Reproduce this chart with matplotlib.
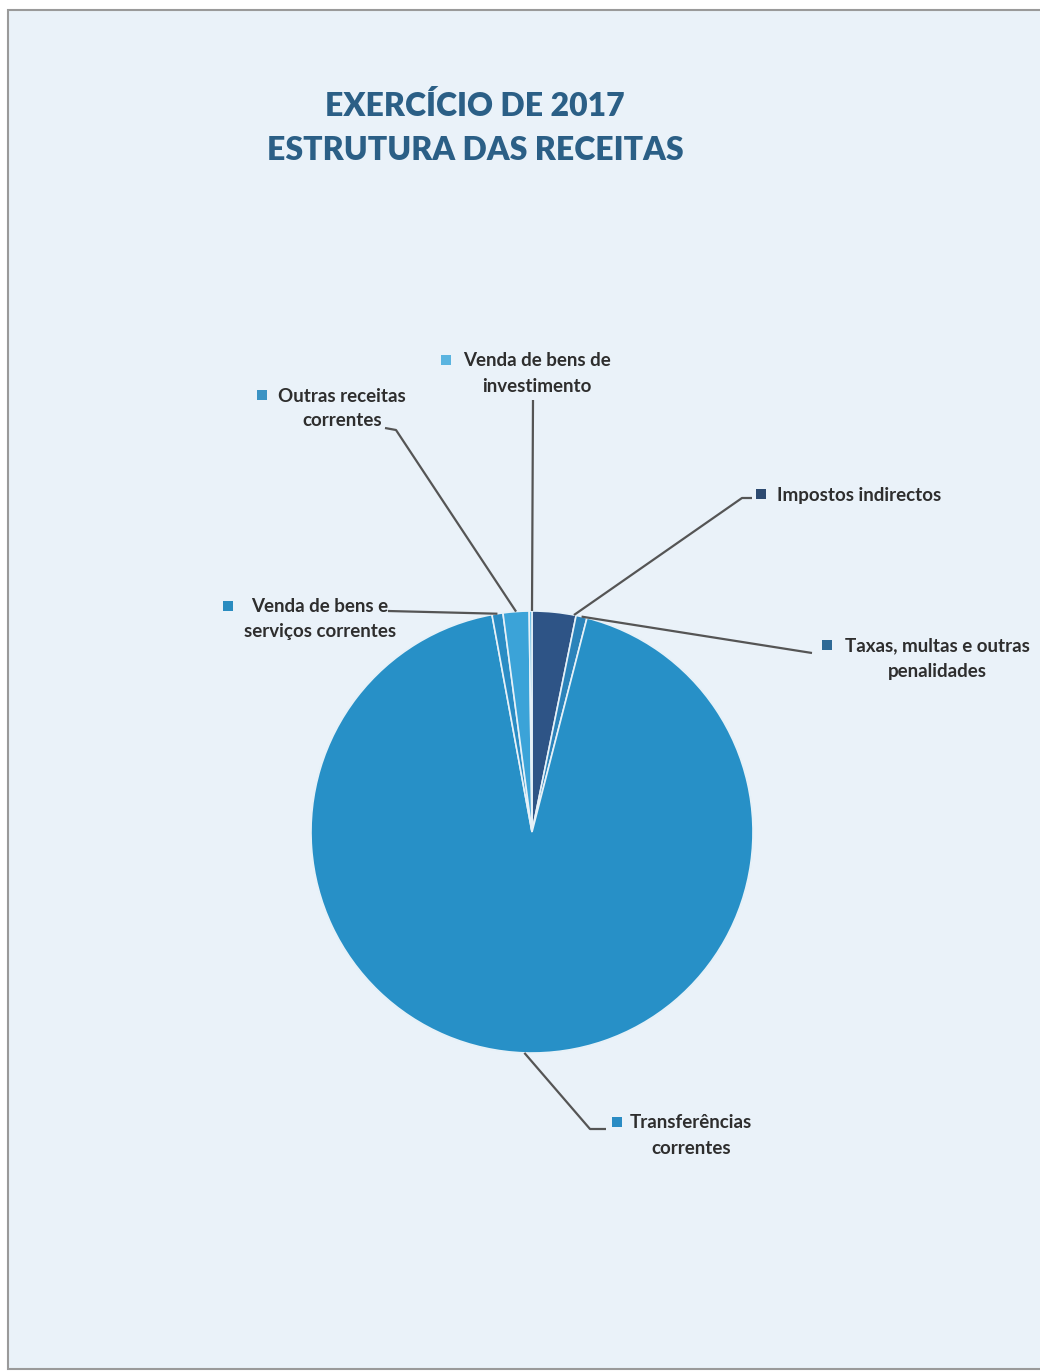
import numpy as np
import matplotlib
matplotlib.use("Agg")
import matplotlib.pyplot as plt
from matplotlib.patches import Rectangle

# ---- data ----
categories = [
    "Impostos indirectos",
    "Taxas, multas e outras\npenalidades",
    "Transferências\ncorrentes",
    "Venda de bens e\nserviços correntes",
    "Outras receitas\ncorrentes",
    "Venda de bens de\ninvestimento",
]
shares = [3.2, 0.8, 93.1, 0.8, 1.9, 0.2]
slice_colors = ["#2e5486", "#2b83ba", "#2790c7", "#2a8cc4", "#3ba3d8", "#5bb6e2"]
legend_colors = ["#2d4a70", "#2f6a96", "#2a8cc4", "#2a8cc0", "#3b93c4", "#5ab4e0"]
title = "EXERCÍCIO DE 2017\nESTRUTURA DAS RECEITAS"

W, H = 1040, 1371
fig = plt.figure(figsize=(W / 100, H / 100), dpi=100)
fig.patch.set_facecolor("white")
ax = fig.add_axes([0, 0, 1, 1])

def Y(py):
    return H - py

# pie
cx, cy, r = 532, 832, 221
wedges, _ = ax.pie(shares, colors=slice_colors, startangle=90, counterclock=False,
                   center=(cx, Y(cy)), radius=r, frame=True,
                   wedgeprops=dict(edgecolor="#e6f1f8", linewidth=1.2))
ax.set_xlim(0, W)
ax.set_ylim(0, H)
ax.set_aspect("equal")
ax.axis("off")

# frame / background
ax.add_patch(Rectangle((8, Y(1369)), 1040, 1369 - 10, facecolor="#eaf2f9",
                       edgecolor="#9a9a9a", linewidth=1.5, zorder=0))

# label layout: (text center x, first line y, square x, leader elbow points, anchor fraction)
layout = [
    dict(tx=859, ty=495, sq=761, elbow=[(752, 498), (742, 498)], frac=0.95),
    dict(tx=937, ty=646, sq=827, elbow=[(812, 653)], frac=0.5),
    dict(tx=691, ty=1123, sq=617, elbow=[(606, 1129), (590, 1129)], frac=0.5),
    dict(tx=320, ty=607, sq=228, elbow=[(388, 611)], frac=0.5),
    dict(tx=342, ty=396, sq=262, elbow=[(385, 428), (396, 430)], frac=0.5),
    dict(tx=537, ty=361, sq=446, elbow=[(533, 400)], frac=1.0),
]

font = dict(family=["Lato", "DejaVu Sans"], fontweight="bold", color="#2e2e2e", fontsize=13.5)
cum = np.cumsum([0] + shares)
for i, (lab, L) in enumerate(zip(categories, layout)):
    a = (cum[i] + L["frac"] * shares[i]) / sum(shares) * 360.0
    ang = np.deg2rad(90 - a)
    ex, ey = cx + r * np.cos(ang), cy - r * np.sin(ang)
    pts = L["elbow"] + [(ex, ey)]
    ax.plot([p[0] for p in pts], [Y(p[1]) for p in pts], color="#555555",
            linewidth=1.6, zorder=5, solid_capstyle="butt")
    lines = lab.split("\n")
    for k, ln in enumerate(lines):
        ax.text(L["tx"], Y(L["ty"] + 25 * k), ln, ha="center", va="center", zorder=6, **font)
    ax.add_patch(Rectangle((L["sq"] - 5, Y(L["ty"] + 4)), 10, 10,
                           facecolor=legend_colors[i], edgecolor="none", zorder=6))

tfont = dict(ha="center", va="center", fontsize=23, fontweight="heavy",
             family=["Lato", "DejaVu Sans"], color="#2b5f86")
t1, t2 = title.split("\n")
ax.text(475, Y(106), t1, **tfont)
ax.text(475, Y(151), t2, **tfont)

fig.savefig("out.png", dpi=100, facecolor="white")
